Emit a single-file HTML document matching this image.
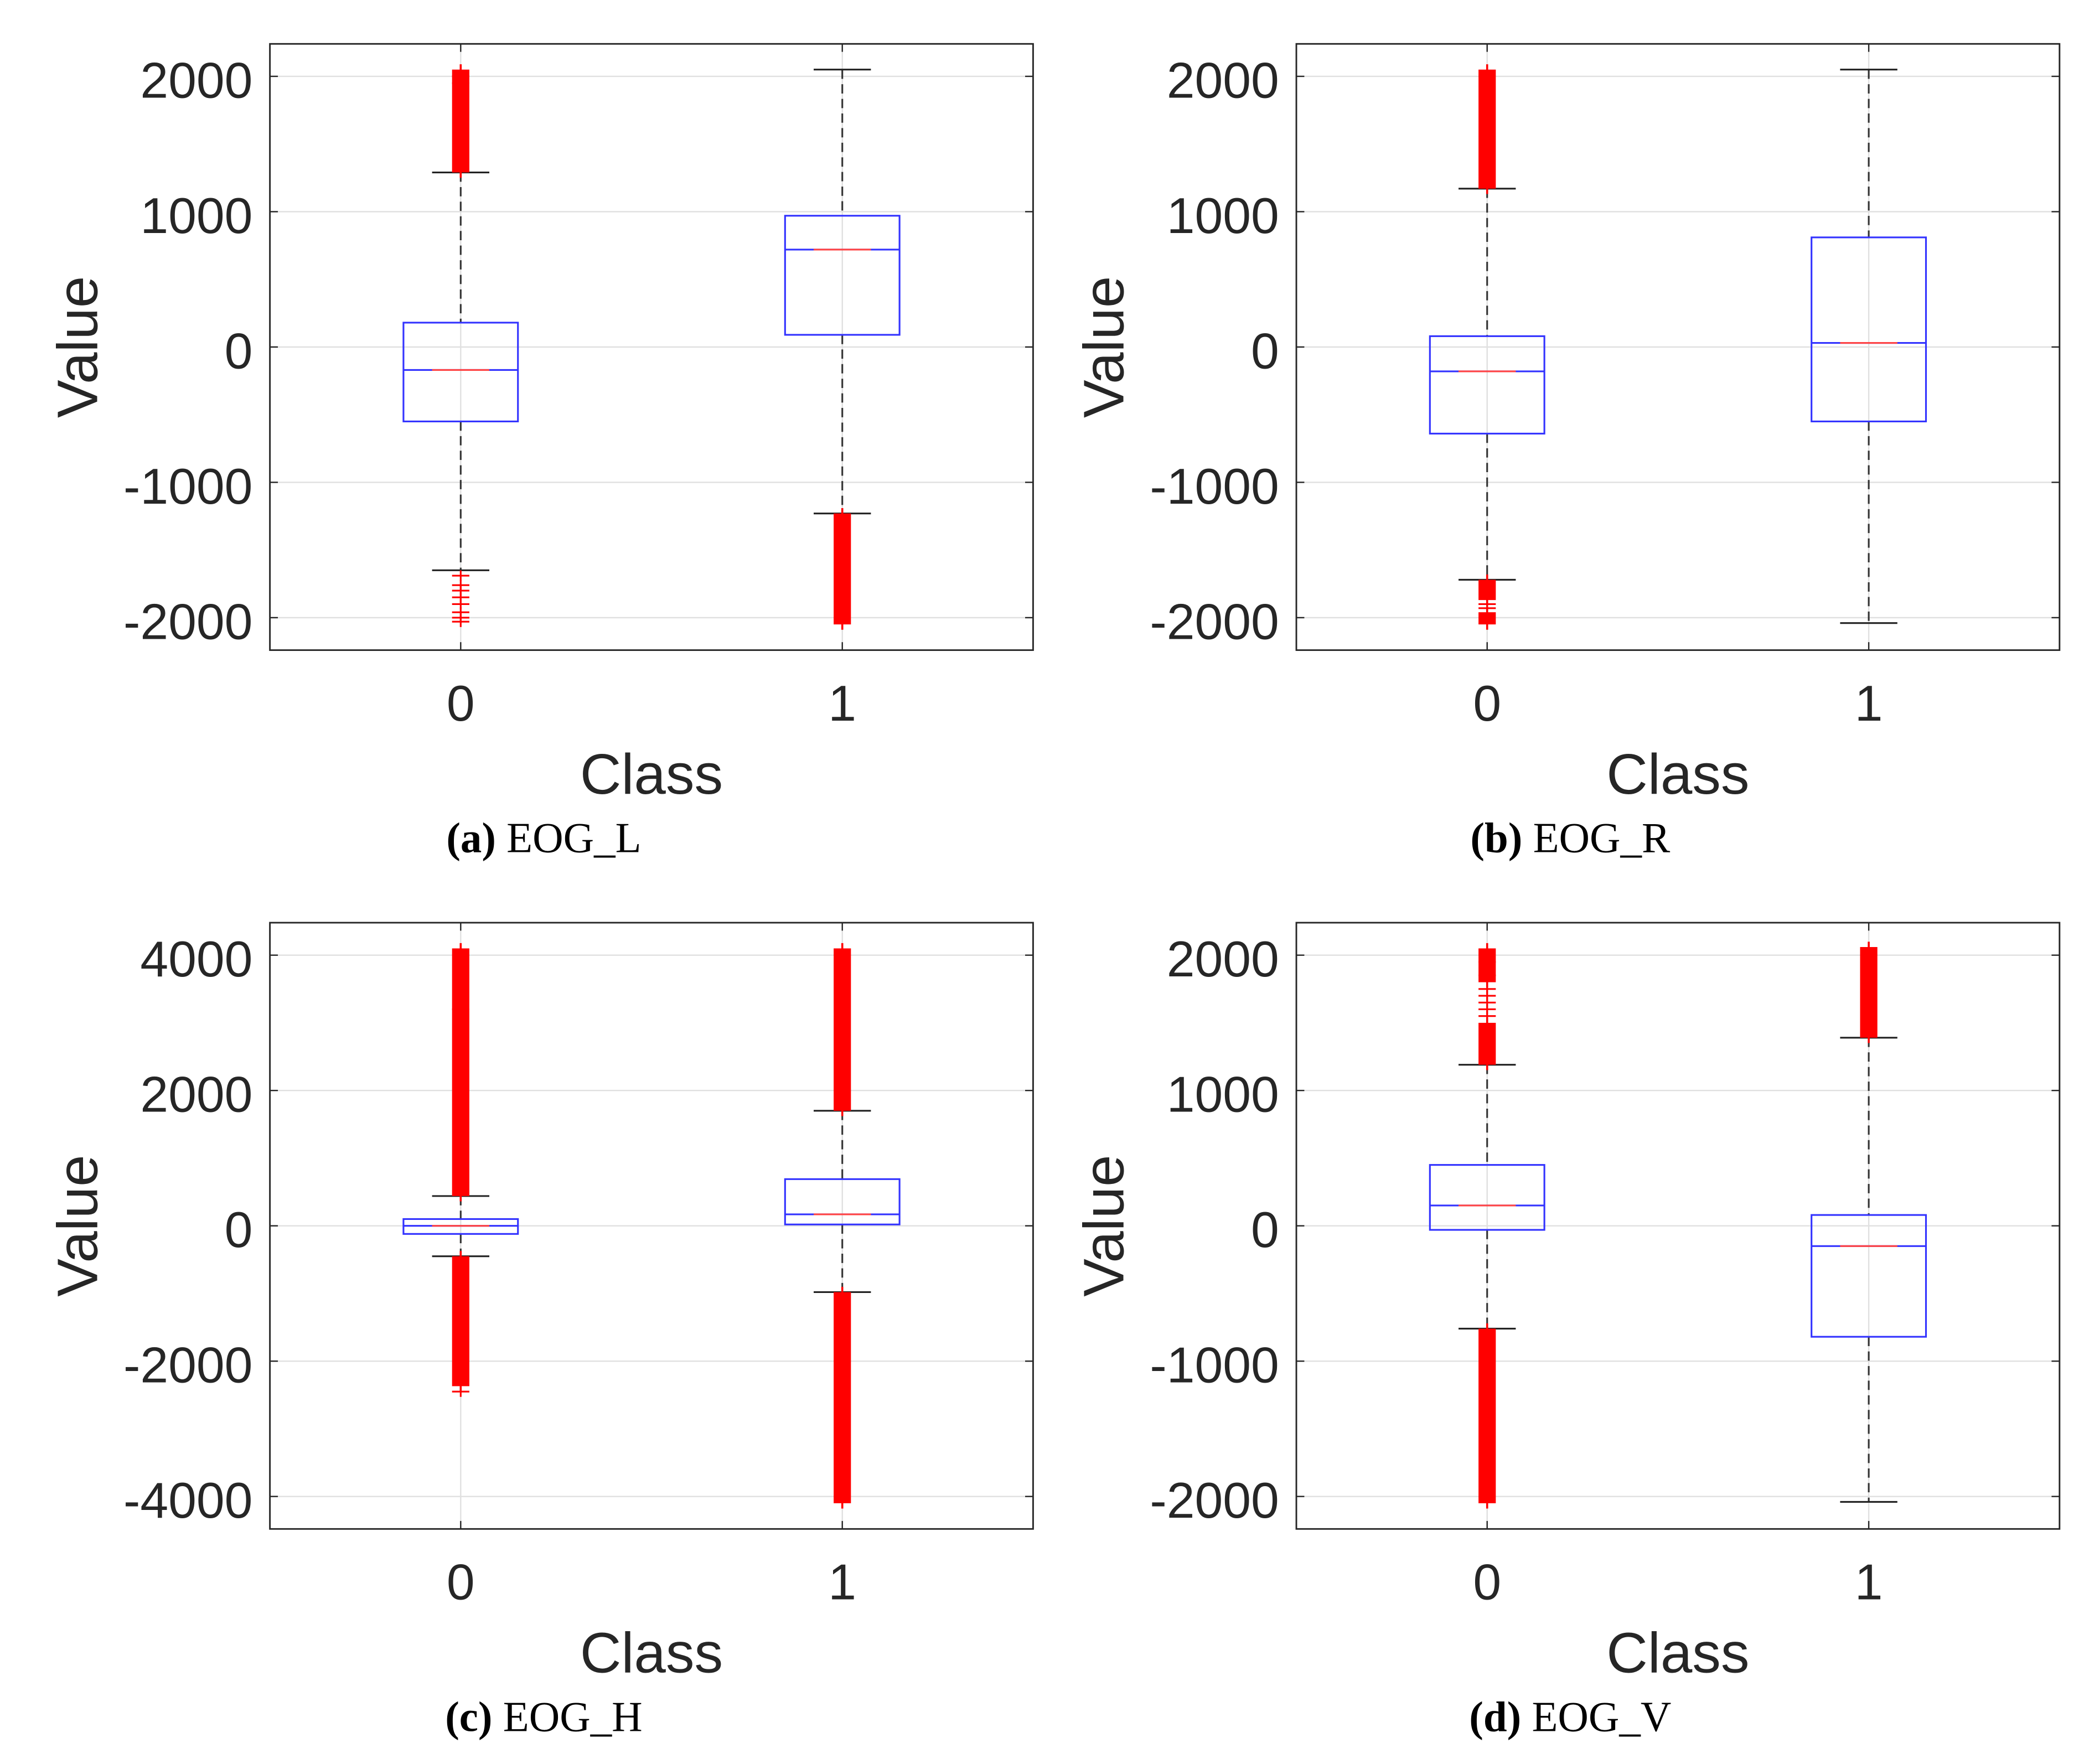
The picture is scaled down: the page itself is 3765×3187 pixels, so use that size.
<!DOCTYPE html>
<html><head><meta charset="utf-8"><style>
html,body{margin:0;padding:0;background:#fff;}
svg{display:block;}
text{font-family:"Liberation Sans",sans-serif;fill:#262626;}
.cap{font-family:"Liberation Serif",serif;fill:#000;}
</style></head><body>
<svg id="fig" width="3765" height="3187" viewBox="0 0 1567.4 1326.8" preserveAspectRatio="none" xmlns="http://www.w3.org/2000/svg"></svg>
<script>
// ---- data ----
const panelNames = ["EOG_L","EOG_R","EOG_H","EOG_V"];
const panelLetters = ["a","b","c","d"];
const categories = ["0","1"];
const yTicksA = [-2000,-1000,0,1000,2000];
const yTicksC = [-4000,-2000,0,2000,4000];
// per-panel [class0, class1] : q1, median, q3, lower whisker, upper whisker
const q1Vals = [[-550,90],[-640,-550],[-120,20],[-30,-820]];
const medVals = [[-170,720],[-180,30],[0,170],[150,-150]];
const q3Vals = [[180,970],[80,810],[100,690],[450,80]];
const loWhisk = [[-1650,-1230],[-1720,-2040],[-450,-980],[-760,-2040]];
const hiWhisk = [[1290,2050],[1170,2050],[440,1700],[1190,1390]];
// dense outlier ranges [from,to] per panel/class
const outDense = [
 [[[1290,2050]],[[-1230,-2050]]],
 [[[1170,2050],[-1720,-1870],[-1960,-2050]],[]],
 [[[440,4100],[-450,-2370]],[[1700,4100],[-980,-4100]]],
 [[[1190,1500],[1800,2050],[-760,-2050]],[[1390,2060]]]
];
// individual sparse outliers
const outSparse = [
 [[1950,2000,-1690,-1760,-1800,-1850,-1900,-1960,-2000,-2030],[]],
 [[-1900,-1930],[]],
 [[3200,-2450],[]],
 [[1550,1600,1650,1700,1750,1850,1950],[]]
];
const yRanges = [[-2240,2240],[-2240,2240],[-4480,4480],[-2240,2240]];

const NS="http://www.w3.org/2000/svg";
const svg=document.getElementById('fig');
function mk(tag,attrs,parent){const e=document.createElementNS(NS,tag);for(const k in attrs)e.setAttribute(k,attrs[k]);(parent||svg).appendChild(e);return e;}

const lefts=[203,975,203,975], tops=[33,33,694,694];
const W=574,H=456;
for(let p=0;p<4;p++){
  const g=mk('g',{});
  
  
  const L=lefts[p],T=tops[p],[ymin,ymax]=yRanges[p];
  const sx=v=>L+(v+0.5)/2*W;
  const sy=v=>T+(ymax-v)/(ymax-ymin)*H;
  const ticks=(p===2)?yTicksC:yTicksA;
  ticks.forEach(t=>{const l=mk('line',{x1:L,x2:L+W,y1:sy(t),y2:sy(t),stroke:'#e0e0e0','stroke-width':1},g);
    });
  categories.forEach((c,i)=>{const l=mk('line',{x1:sx(i),x2:sx(i),y1:T,y2:T+H,stroke:'#e0e0e0','stroke-width':1},g);
    });
  categories.forEach((c,i)=>{
    const x=sx(i), hw=0.15*W/2, cw=0.075*W/2;
    const bg=mk('g',{},g);
    
    
    mk('line',{x1:x,x2:x,y1:sy(hiWhisk[p][i]),y2:sy(q3Vals[p][i]),stroke:'#333','stroke-width':1.3,'stroke-dasharray':'7,4'},bg);
    mk('line',{x1:x,x2:x,y1:sy(q1Vals[p][i]),y2:sy(loWhisk[p][i]),stroke:'#333','stroke-width':1.3,'stroke-dasharray':'7,4'},bg);
    mk('line',{x1:x-cw,x2:x+cw,y1:sy(hiWhisk[p][i]),y2:sy(hiWhisk[p][i]),stroke:'#222','stroke-width':1.3},bg);
    mk('line',{x1:x-cw,x2:x+cw,y1:sy(loWhisk[p][i]),y2:sy(loWhisk[p][i]),stroke:'#222','stroke-width':1.3},bg);
    outDense[p][i].forEach(r=>{
      const a=sy(Math.max(r[0],r[1])),b=sy(Math.min(r[0],r[1]));
      const o=mk('rect',{x:x-6.5,y:a,width:13,height:b-a,fill:'#ff0000'},bg);
      
      mk('line',{x1:x,x2:x,y1:a-4,y2:b+4,stroke:'#ff0000','stroke-width':1.5},bg);
    });
    outSparse[p][i].forEach(v=>{
      const o=mk('path',{d:`M${x-6.5},${sy(v)}H${x+6.5}M${x},${sy(v)-4}V${sy(v)+4}`,stroke:'#ff0000','stroke-width':1.3,fill:'none'},bg);
      
    });
    const r=mk('rect',{x:x-hw,y:sy(q3Vals[p][i]),width:2*hw,height:sy(q1Vals[p][i])-sy(q3Vals[p][i]),fill:'none',stroke:'#3333ff','stroke-width':1.3},bg);
    
    mk('line',{x1:x-hw,x2:x+hw,y1:sy(medVals[p][i]),y2:sy(medVals[p][i]),stroke:'#3333ff','stroke-width':1.3},bg);
    const m=mk('line',{x1:x-cw,x2:x+cw,y1:sy(medVals[p][i]),y2:sy(medVals[p][i]),stroke:'#ff4444','stroke-width':1.3},bg);
    
  });
  const f=mk('rect',{x:L,y:T,width:W,height:H,fill:'none',stroke:'#262626','stroke-width':1.2},g);
  
  ticks.forEach(t=>{
    mk('line',{x1:L,x2:L+6,y1:sy(t),y2:sy(t),stroke:'#262626','stroke-width':1},g);
    mk('line',{x1:L+W-6,x2:L+W,y1:sy(t),y2:sy(t),stroke:'#262626','stroke-width':1},g);
    const tx=mk('text',{x:L-13,y:sy(t)+16,'text-anchor':'end','font-size':38},g);
    tx.textContent=t;
    
  });
  categories.forEach((c,i)=>{
    mk('line',{x1:sx(i),x2:sx(i),y1:T+H-6,y2:T+H,stroke:'#262626','stroke-width':1},g);
    mk('line',{x1:sx(i),x2:sx(i),y1:T,y2:T+6,stroke:'#262626','stroke-width':1},g);
    const tx=mk('text',{x:sx(i),y:T+H+53,'text-anchor':'middle','font-size':38},g);
    tx.textContent=c;
    
  });
  const xt=mk('text',{x:L+W/2,y:T+H+108,'text-anchor':'middle','font-size':43},g);
  xt.textContent='Class';
  
  const yt=mk('text',{x:0,y:0,'text-anchor':'middle','font-size':43,transform:`translate(${L-130},${T+H/2}) rotate(-90)`},g);
  yt.textContent='Value';
  
  const cp=mk('text',{x:L+W/2-81,y:T+H+152,'text-anchor':'middle','font-size':32,class:'cap'},g);
  
  const b=mk('tspan',{'font-weight':'bold'},cp);b.textContent='('+panelLetters[p]+')';
  const n=mk('tspan',{},cp);n.textContent=' '+panelNames[p];
}
</script>
</body></html>
